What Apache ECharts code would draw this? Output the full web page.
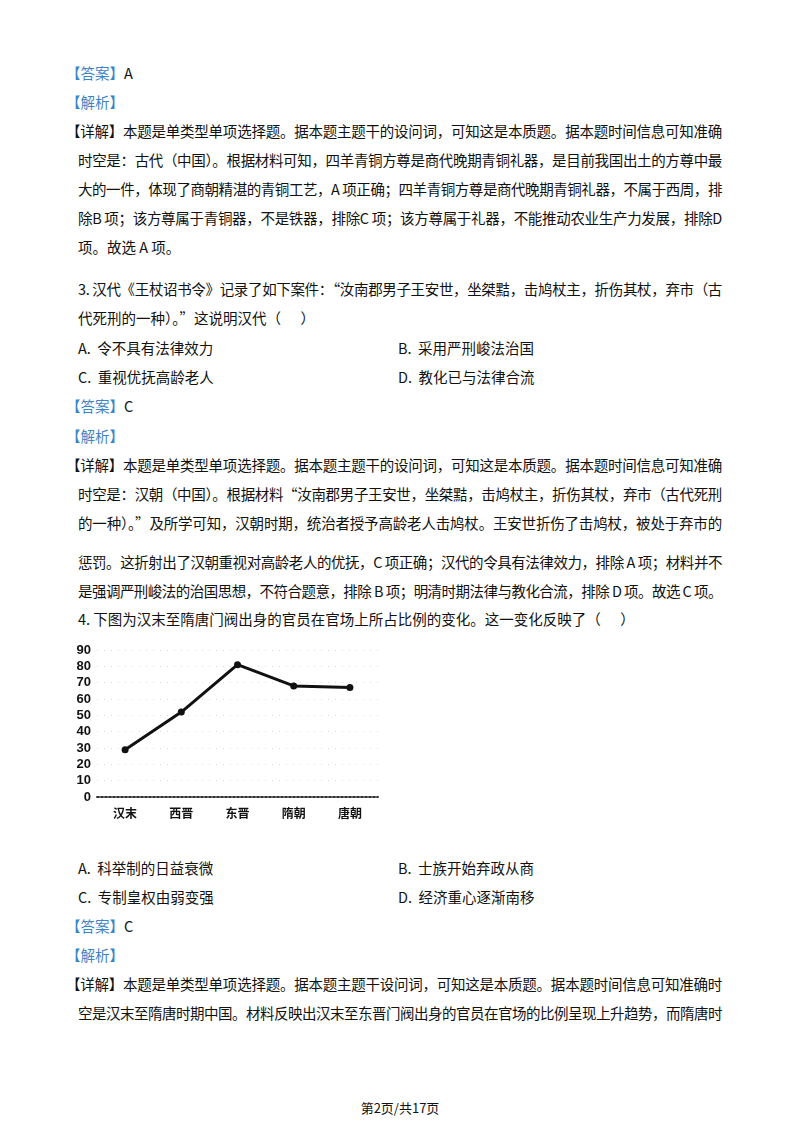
<!DOCTYPE html>
<html><head><meta charset="utf-8">
<script src="https://cdn.jsdelivr.net/npm/echarts@6/dist/echarts.min.js"></script>
<style>
body{margin:0;width:800px;height:1132px;background:#fff;position:relative;font-family:"Noto Sans CJK SC",sans-serif;color:#111;}
.l{position:absolute;font-size:14.5px;line-height:20px;white-space:nowrap;}
.b{color:#3d84c6;}
#chart{position:absolute;left:60px;top:630px;width:340px;height:200px;}
</style></head><body>
<div id="page"></div>
<div id="chart"></div>
<script>
const categories = ['汉末','西晋','东晋','隋朝','唐朝'];
const values = [29, 52, 81, 68, 67];
const yTicks = [0,10,20,30,40,50,60,70,80,90];

const lines = [
 [73,66,'<span class="b">【答案】</span>A',0],
 [102,66,'<span class="b">【解析】</span>',0],
 [131,66,'【详解】本题是单类型单项选择题。据本题主题干的设问词，可知这是本质题。据本题时间信息可知准确',1],
 [160,78,'时空是：古代（中国）。根据材料可知，四羊青铜方尊是商代晚期青铜礼器，是目前我国出土的方尊中最',1],
 [189,78,'大的一件，体现了商朝精湛的青铜工艺，A 项正确；四羊青铜方尊是商代晚期青铜礼器，不属于西周，排',1],
 [218,78,'除B 项；该方尊属于青铜器，不是铁器，排除C 项；该方尊属于礼器，不能推动农业生产力发展，排除D',1],
 [247,78,'项。故选 A 项。',0],
 [289,78,'3. 汉代《王杖诏书令》记录了如下案件：“汝南郡男子王安世，坐桀黠，击鸠杖主，折伤其杖，弃市（古',1],
 [318,78,'代死刑的一种）。”这说明汉代（&nbsp;&nbsp;&nbsp;&nbsp;&nbsp;&nbsp;）',0],
 [348,78,'A.&nbsp; 令不具有法律效力',0],[348,398,'B.&nbsp; 采用严刑峻法治国',0],
 [377,78,'C.&nbsp; 重视优抚高龄老人',0],[377,398,'D.&nbsp; 教化已与法律合流',0],
 [406,66,'<span class="b">【答案】</span>C',0],
 [436,66,'<span class="b">【解析】</span>',0],
 [465,66,'【详解】本题是单类型单项选择题。据本题主题干的设问词，可知这是本质题。据本题时间信息可知准确',1],
 [494,78,'时空是：汉朝（中国）。根据材料“汝南郡男子王安世，坐桀黠，击鸠杖主，折伤其杖，弃市（古代死刑',1],
 [523,78,'的一种）。”及所学可知，汉朝时期，统治者授予高龄老人击鸠杖。王安世折伤了击鸠杖，被处于弃市的',1],
 [562,78,'惩罚。这折射出了汉朝重视对高龄老人的优抚，C 项正确；汉代的令具有法律效力，排除 A 项；材料并不',1],
 [591,78,'是强调严刑峻法的治国思想，不符合题意，排除 B 项；明清时期法律与教化合流，排除 D 项。故选 C 项。',1],
 [619,78,'4. 下图为汉末至隋唐门阀出身的官员在官场上所占比例的变化。这一变化反映了（&nbsp;&nbsp;&nbsp;&nbsp;&nbsp;&nbsp;）',0],
 [868,78,'A.&nbsp; 科举制的日益衰微',0],[868,398,'B.&nbsp; 士族开始弃政从商',0],
 [897,78,'C.&nbsp; 专制皇权由弱变强',0],[897,398,'D.&nbsp; 经济重心逐渐南移',0],
 [926,66,'<span class="b">【答案】</span>C',0],
 [955,66,'<span class="b">【解析】</span>',0],
 [984,66,'【详解】本题是单类型单项选择题。据本题主题干设问词，可知这是本质题。据本题时间信息可知准确时',1],
 [1013,78,'空是汉末至隋唐时期中国。材料反映出汉末至东晋门阀出身的官员在官场的比例呈现上升趋势，而隋唐时',1]
];
const page = document.getElementById('page');
lines.forEach(([y,x,t,j])=>{
  const d=document.createElement('div');
  d.className='l';
  d.style.top=(y-10)+'px'; d.style.left=x+'px';
  d.innerHTML=t; page.appendChild(d);
  if(j){
    const target=722-x, w=d.getBoundingClientRect().width;
    const n=d.textContent.length;
    d.style.letterSpacing=((target-w)/n)+'px';
  }
});
const f=document.createElement('div');
f.className='l'; f.style.cssText='top:1098px;left:0;width:800px;text-align:center;font-size:13px;';
f.textContent='第2页/共17页'; page.appendChild(f);

const chart = echarts.init(document.getElementById('chart'));
chart.setOption({
  animation:false,
  grid:{left:37,right:22,top:20,bottom:33},
  xAxis:{type:'category',data:categories,boundaryGap:true,
    axisLine:{lineStyle:{color:'#333',type:'dotted',width:2}},axisTick:{show:false},
    axisLabel:{color:'#111',fontWeight:'bold',fontSize:12,margin:10,fontFamily:'Noto Sans CJK SC'}},
  yAxis:{type:'value',min:0,max:90,interval:10,
    axisLine:{show:false},axisTick:{show:false},
    axisLabel:{color:'#111',fontWeight:'bold',fontSize:13,margin:6,fontFamily:'Liberation Sans',
      formatter:v=>yTicks.includes(v)?String(v):''},
    splitLine:{show:true,lineStyle:{color:'#ddd',type:[1,6]}}},
  series:[{type:'line',data:values,symbol:'circle',symbolSize:7,
    lineStyle:{color:'#111',width:3},itemStyle:{color:'#111'}}]
});
</script></body></html>
